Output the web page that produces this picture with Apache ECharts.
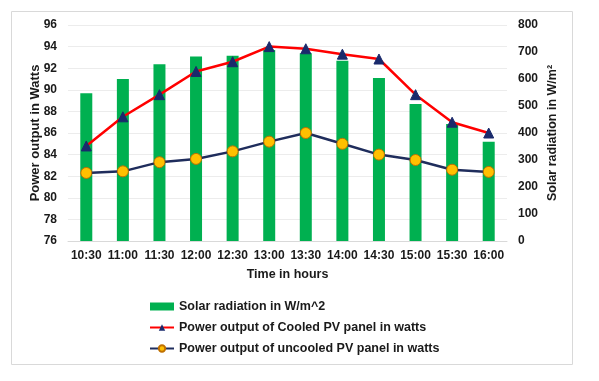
<!DOCTYPE html>
<html><head><meta charset="utf-8">
<script src="https://cdn.jsdelivr.net/npm/echarts@6/dist/echarts.min.js"></script>
<style>html,body{margin:0;padding:0;background:#fff}#c{width:599px;height:381px}</style>
</head><body><div id="c"></div>
<script>
const categories = ['10:30','11:00','11:30','12:00','12:30','13:00','13:30','14:00','14:30','15:00','15:30','16:00'];
const solarRadiation = [547, 600, 655, 683, 686, 707, 695, 668, 604, 507, 433, 368];
const cooledPower = [84.8, 87.5, 89.55, 91.7, 92.6, 94.0, 93.8, 93.3, 92.85, 89.55, 87.0, 86.0];
const uncooledPower = [82.3, 82.45, 83.3, 83.6, 84.3, 85.2, 86.0, 85.0, 84.0, 83.5, 82.6, 82.4];
const leftTicks = {min: 76, max: 96, interval: 2};
const rightTicks = {min: 0, max: 800, interval: 100};

const font = 'Liberation Sans, Arial, sans-serif';
const lbl = {fontFamily: font, fontWeight: 'bold', fontSize: 12, color: '#1a1a1a'};
const chart = echarts.init(document.getElementById('c'));
chart.setOption({
  animation: false,
  graphic: [{type: 'rect', shape: {x: 11.5, y: 11.5, width: 561, height: 353}, style: {fill: 'none', stroke: '#d9d9d9', lineWidth: 1}, silent: true}],
  grid: {left: 68, right: 92, top: 25, bottom: 140},
  legend: {
    orient: 'vertical', left: 149, top: 300, padding: 0, itemGap: 8, itemWidth: 24, itemHeight: 8,
    textStyle: Object.assign({}, lbl, {fontSize: 12.5}),
    data: [
      {name: 'Solar radiation in W/m^2', icon: 'rect'},
      {name: 'Power output of Cooled PV panel in watts'},
      {name: 'Power output of uncooled PV panel in watts'}
    ]
  },
  xAxis: {
    type: 'category', data: categories,
    name: 'Time in hours', nameLocation: 'middle', nameGap: 27,
    nameTextStyle: Object.assign({}, lbl, {fontSize: 12.5}),
    axisLine: {lineStyle: {color: '#d9d9d9'}}, axisTick: {show: false},
    axisLabel: Object.assign({}, lbl, {margin: 9, interval: 0})
  },
  yAxis: [
    {type: 'value', min: leftTicks.min, max: leftTicks.max, interval: leftTicks.interval,
     name: 'Power output in Watts', nameLocation: 'middle', nameGap: 26, nameRotate: 90,
     nameMoveOverlap: false,
     nameTextStyle: Object.assign({}, lbl, {fontSize: 13}),
     axisLabel: Object.assign({}, lbl, {margin: 11}),
     axisLine: {show: false}, axisTick: {show: false},
     splitLine: {lineStyle: {color: '#ececec'}}},
    {type: 'value', min: rightTicks.min, max: rightTicks.max, interval: rightTicks.interval,
     name: 'Solar radiation in W/m²', nameLocation: 'middle', nameGap: 39, nameRotate: 90,
     nameMoveOverlap: false,
     nameTextStyle: Object.assign({}, lbl, {fontSize: 12.5}),
     axisLabel: Object.assign({}, lbl, {margin: 11}),
     axisLine: {show: false}, axisTick: {show: false}, splitLine: {show: false}}
  ],
  series: [
    {name: 'Solar radiation in W/m^2', type: 'bar', yAxisIndex: 1, data: solarRadiation,
     barWidth: 12, itemStyle: {color: '#00b050'}},
    {name: 'Power output of Cooled PV panel in watts', type: 'line', yAxisIndex: 0, data: cooledPower,
     symbol: 'triangle', symbolSize: 10, lineStyle: {color: '#ff0000', width: 2.5},
     itemStyle: {color: '#1a2a6c', borderColor: '#1a2a6c'}},
    {name: 'Power output of uncooled PV panel in watts', type: 'line', yAxisIndex: 0, data: uncooledPower,
     symbol: 'circle', symbolSize: 11, lineStyle: {color: '#1f2d5c', width: 2.5},
     itemStyle: {color: '#ffc000', borderColor: '#c07000', borderWidth: 1}}
  ]
});
</script></body></html>
